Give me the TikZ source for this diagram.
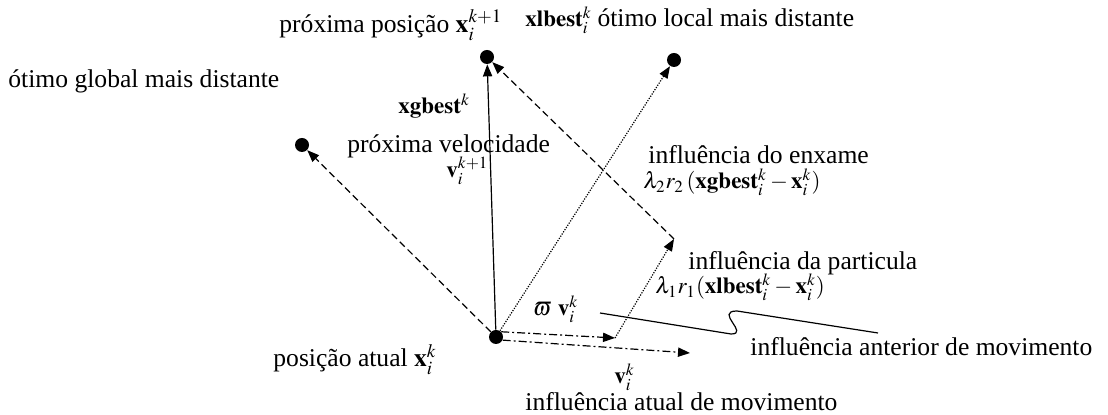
\documentclass[tikz,border=0pt]{standalone}
\usepackage{mathptmx}
\usepackage{fontspec}
\setmainfont{Liberation Serif}
\usetikzlibrary{arrows.meta,positioning}

\tikzset{
  dot/.style={circle, fill=black, inner sep=0pt, minimum size=7pt},
  lbl/.style={anchor=base west, inner sep=0pt, font=\fontsize{12.8}{14}\selectfont},
  fml/.style={lbl, font=\fontsize{11.5}{13}\selectfont},
  vec/.style={line width=0.6pt, -{Triangle[length=6pt,width=4.6pt]}},
  dashdot/.style={dash pattern=on 4pt off 1.5pt on 1pt off 1.5pt},
  dots/.style={dash pattern=on 0.6pt off 0.7pt}
}

\begin{document}
\begin{tikzpicture}[x=0.5pt, y=-0.5pt]
        \useasboundingbox (0,0) rectangle (1108,415);

        % particle positions
        \node[dot] (cur) at (496,337) {};
        \node[dot] (next) at (487,57) {};
        \node[dot] (lbest) at (674,60) {};
        \node[dot] (gbest) at (302,145) {};

        % free ends of the influence vectors
        \coordinate (wv) at (615,338);
        \coordinate (vk) at (690,353);
        \coordinate (pinf) at (674,239);

        % velocity and attractors
        \draw[vec] (cur) -- (next);
        \draw[vec, dash pattern=on 3.5pt off 2pt] (cur) -- (gbest);
        \draw[vec, dots] (cur) -- (lbest);

        % composition of the move
        \draw[vec, dashdot] (cur.45) -- (wv);
        \draw[vec, dashdot] (cur.-25) -- (vk);
        \draw[vec, dots] (wv) -- (pinf);
        \draw[vec, dash pattern=on 3.5pt off 2pt] (pinf) -- (next);

        % labels
        \node[lbl] (lnext) at (279,33) {próxima posição $\mathbf{x}_i^{k+1}$};
        \node[fml] (llbest) at (525,27) {$\mathbf{xlbest}_i^k$ {\fontsize{12.8}{14}\selectfont ótimo local mais distante}};
        \node[lbl] (lgbest) at (8,88) {ótimo global mais distante};
        \node[fml] (lgbestx) at (398,114) {$\mathbf{xgbest}^k$};
        \node[lbl] (lvel) at (347,153) {próxima velocidade};
        \node[fml] (lvelx) at (446,178) {$\mathbf{v}_i^{k+1}$};
        \node[lbl] (lswarm) at (648,164) {influência do enxame};
        \node[fml] (lswarmx) at (643,189) {$\lambda_2 r_2\,(\mathbf{xgbest}_i^k - \mathbf{x}_i^k)$};
        \node[lbl] (lpart) at (688,270) {influência da particula};
        \node[fml] (lpartx) at (655,294) {$\lambda_1 r_1(\mathbf{xlbest}_i^k - \mathbf{x}_i^k)$};
        \node[fml] (lw) at (533,316) {$\varpi\ \mathbf{v}_i^k$};
        \node[lbl] (lprev) at (750,356) {influência anterior de movimento};
        \node[lbl] (lcur) at (273,367) {posição atual $\mathbf{x}_i^k$};
        \node[fml] (lvk) at (614,384) {$\mathbf{v}_i^k$};
        \node[lbl] (lnow) at (525,411) {influência atual de movimento};

        % pointer from the inertia term
        \coordinate (p1) at (600,313);
        \coordinate (p2) at (878,333);
        \draw[line width=0.6pt] (p1) -- (731,334)
            .. controls (750,334) and (714,311) .. (737,311) -- (p2);
\end{tikzpicture}
\end{document}
